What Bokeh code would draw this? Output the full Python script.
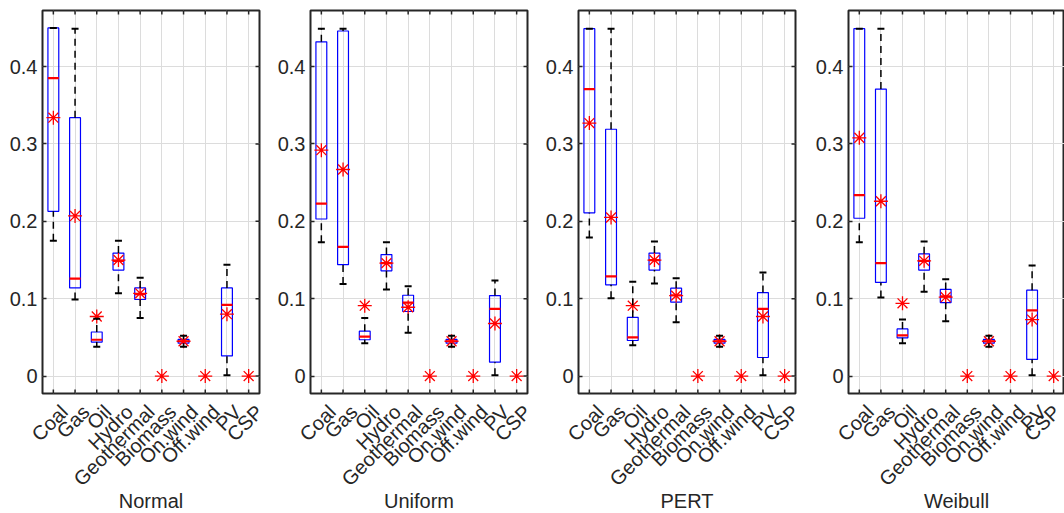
import math
from bokeh.plotting import figure
from bokeh.models import (FixedTicker, Range1d, ColumnDataSource, Whisker, TeeHead,
                          LinearAxis)
from bokeh.layouts import row
from bokeh.embed import file_html
from bokeh.resources import INLINE

nan = float("nan")

CATEGORIES = ["Coal", "Gas", "Oil", "Hydro", "Geothermal", "Biomass",
              "On.wind", "Off.wind", "PV", "CSP"]
PANELS = ["Normal", "Uniform", "PERT", "Weibull"]
Y_TICKS = [0, 0.1, 0.2, 0.3, 0.4]
Y_TICK_LABELS = ["0", "0.1", "0.2", "0.3", "0.4"]

# Normal
NORMAL_LO = [0.175, 0.099, 0.038, 0.107, 0.075, nan, 0.038, nan, 0.001, nan]
NORMAL_Q1 = [0.213, 0.114, 0.044, 0.137, 0.099, nan, 0.0425, nan, 0.026, nan]
NORMAL_MED = [0.385, 0.126, 0.047, 0.149, 0.106, nan, 0.045, nan, 0.092, nan]
NORMAL_Q3 = [0.450, 0.334, 0.057, 0.159, 0.114, nan, 0.0475, nan, 0.114, nan]
NORMAL_HI = [0.450, 0.449, 0.074, 0.175, 0.127, nan, 0.052, nan, 0.144, nan]
NORMAL_MEAN = [0.334, 0.207, 0.077, 0.150, 0.107, 0.0, 0.045, 0.0, 0.080, 0.0]

# Uniform
UNIFORM_LO = [0.173, 0.119, 0.0426, 0.112, 0.056, nan, 0.038, nan, 0.001, nan]
UNIFORM_Q1 = [0.203, 0.144, 0.047, 0.136, 0.0835, nan, 0.0425, nan, 0.018, nan]
UNIFORM_MED = [0.223, 0.167, 0.051, 0.146, 0.095, nan, 0.045, nan, 0.087, nan]
UNIFORM_Q3 = [0.432, 0.446, 0.058, 0.157, 0.1045, nan, 0.0475, nan, 0.104, nan]
UNIFORM_HI = [0.449, 0.449, 0.075, 0.173, 0.116, nan, 0.052, nan, 0.1235, nan]
UNIFORM_MEAN = [0.292, 0.267, 0.091, 0.146, 0.089, 0.0, 0.045, 0.0, 0.068, 0.0]

# PERT
PERT_LO = [0.179, 0.1006, 0.040, 0.1196, 0.0697, nan, 0.038, nan, 0.001, nan]
PERT_Q1 = [0.211, 0.118, 0.046, 0.137, 0.0955, nan, 0.0425, nan, 0.024, nan]
PERT_MED = [0.371, 0.129, 0.050, 0.150, 0.1045, nan, 0.045, nan, 0.087, nan]
PERT_Q3 = [0.449, 0.319, 0.076, 0.159, 0.1136, nan, 0.0475, nan, 0.108, nan]
PERT_HI = [0.449, 0.449, 0.122, 0.174, 0.1265, nan, 0.052, nan, 0.134, nan]
PERT_MEAN = [0.327, 0.205, 0.091, 0.150, 0.104, 0.0, 0.045, 0.0, 0.077, 0.0]

# Weibull
WEIBULL_LO = [0.173, 0.1015, 0.0426, 0.109, 0.071, nan, 0.038, nan, 0.001, nan]
WEIBULL_Q1 = [0.204, 0.121, 0.0495, 0.137, 0.095, nan, 0.0425, nan, 0.0215, nan]
WEIBULL_MED = [0.234, 0.146, 0.0525, 0.149, 0.103, nan, 0.045, nan, 0.085, nan]
WEIBULL_Q3 = [0.449, 0.371, 0.061, 0.158, 0.112, nan, 0.0475, nan, 0.111, nan]
WEIBULL_HI = [0.449, 0.449, 0.073, 0.174, 0.125, nan, 0.052, nan, 0.143, nan]
WEIBULL_MEAN = [0.308, 0.226, 0.094, 0.149, 0.102, 0.0, 0.045, 0.0, 0.073, 0.0]

TEXT = "#262626"
FONT = "Liberation Sans"
X_LO, X_HI = 0.5, 10.5
Y_LO, Y_HI = -0.0225, 0.4725
LABEL_SHIFT = 0.5   # rotated category names sit a little right of their tick (in category units)


def panel(title, lo, q1, med, q3, hi, mean, fig_w, frame_w, right_ticks):
    xs = list(range(1, len(CATEGORIES) + 1))
    p = figure(frame_width=frame_w, frame_height=383,
               x_range=Range1d(X_LO, X_HI), y_range=Range1d(Y_LO, Y_HI),
               x_axis_location=None,
               output_backend="svg", toolbar_location=None,
               min_border_left=42, min_border_right=fig_w - 42 - frame_w,
               min_border_top=10, min_border_bottom=120)
    p.outline_line_color = TEXT
    p.outline_line_width = 2
    p.background_fill_color = "white"
    p.border_fill_color = "white"

    idx = [i for i in range(len(CATEGORIES)) if not math.isnan(q1[i])]
    src = ColumnDataSource(dict(
        x=[xs[i] for i in idx], lo=[lo[i] for i in idx], q1=[q1[i] for i in idx],
        med=[med[i] for i in idx], q3=[q3[i] for i in idx], hi=[hi[i] for i in idx]))
    msrc = ColumnDataSource(dict(x=xs, mean=mean))

    for lower, upper, side in (("q3", "hi", "upper"), ("lo", "q1", "lower")):
        head = TeeHead(size=7, line_color="black", line_width=2)
        kw = {"upper_head": head, "lower_head": None} if side == "upper" else \
             {"lower_head": head, "upper_head": None}
        w = Whisker(source=src, base="x", lower=lower, upper=upper, dimension="height",
                    line_color="black", line_width=1.5, line_dash="7 5", level="glyph", **kw)
        p.add_layout(w)

    p.vbar(x="x", width=0.5, bottom="q1", top="q3", source=src,
           fill_color="white", fill_alpha=0.0, line_color="#0000ff", line_width=1.2)
    p.scatter(x="x", y="med", source=src, marker="dash", size=11,
              line_color="#ff0000", line_width=2.2)
    p.scatter(x="x", y="mean", source=msrc, marker="asterisk", size=14,
              line_color="#ff0000", line_width=1.3)

    # inward tick marks on bottom, top and right (outer half clipped by the frame)
    tsrc = ColumnDataSource(dict(x=xs, ylo=[Y_LO] * len(xs), yhi=[Y_HI] * len(xs)))
    for col in ("ylo", "yhi"):
        p.scatter(x="x", y=col, source=tsrc, marker="dash", angle=math.pi / 2, size=8,
                  line_color=TEXT, line_width=1.5)
    if right_ticks:
        rsrc = ColumnDataSource(dict(x=[X_HI] * len(Y_TICKS), y=Y_TICKS))
        p.scatter(x="x", y="y", source=rsrc, marker="dash", size=8,
                  line_color=TEXT, line_width=1.5)

    ax = p.yaxis[0]
    ax.ticker = FixedTicker(ticks=Y_TICKS)
    ax.major_label_overrides = dict(zip(Y_TICKS, Y_TICK_LABELS))
    ax.axis_line_color = None
    ax.major_tick_in = 4
    ax.major_tick_out = 0
    ax.major_tick_line_color = TEXT
    ax.major_tick_line_width = 1.5
    ax.minor_tick_line_color = None
    ax.major_label_text_font = FONT
    ax.major_label_text_font_size = "20px"
    ax.major_label_text_color = TEXT
    ax.major_label_standoff = 5

    # category axis below, on a slightly shifted range so the rotated names end right of the tick
    p.extra_x_ranges = {"lab": Range1d(X_LO - LABEL_SHIFT, X_HI - LABEL_SHIFT)}
    xa = LinearAxis(x_range_name="lab", ticker=FixedTicker(ticks=xs),
                    major_label_overrides=dict(zip(xs, CATEGORIES)),
                    major_label_orientation=math.pi / 4, major_label_standoff=15,
                    major_tick_in=0, major_tick_out=0, major_tick_line_color=None,
                    minor_tick_line_color=None, axis_line_color=None,
                    major_label_text_font=FONT, major_label_text_font_size="20px",
                    major_label_text_color=TEXT,
                    axis_label=title, axis_label_standoff=-11,
                    axis_label_text_font=FONT, axis_label_text_font_size="20px",
                    axis_label_text_font_style="normal", axis_label_text_color=TEXT)
    p.add_layout(xa, "below")

    p.xgrid.ticker = FixedTicker(ticks=xs)
    p.ygrid.ticker = FixedTicker(ticks=Y_TICKS)
    p.grid.grid_line_color = "#dcdcdc"
    p.grid.grid_line_width = 1
    return p


figs = [
    panel(PANELS[0], NORMAL_LO, NORMAL_Q1, NORMAL_MED, NORMAL_Q3, NORMAL_HI, NORMAL_MEAN, 268, 217, True),
    panel(PANELS[1], UNIFORM_LO, UNIFORM_Q1, UNIFORM_MED, UNIFORM_Q3, UNIFORM_HI, UNIFORM_MEAN, 268, 217, True),
    panel(PANELS[2], PERT_LO, PERT_Q1, PERT_MED, PERT_Q3, PERT_HI, PERT_MEAN, 270, 217, True),
    panel(PANELS[3], WEIBULL_LO, WEIBULL_Q1, WEIBULL_MED, WEIBULL_Q3, WEIBULL_HI, WEIBULL_MEAN, 258, 216, False),
]

layout = row(*figs, spacing=0)
open("out.html", "w").write(file_html(layout, INLINE))
